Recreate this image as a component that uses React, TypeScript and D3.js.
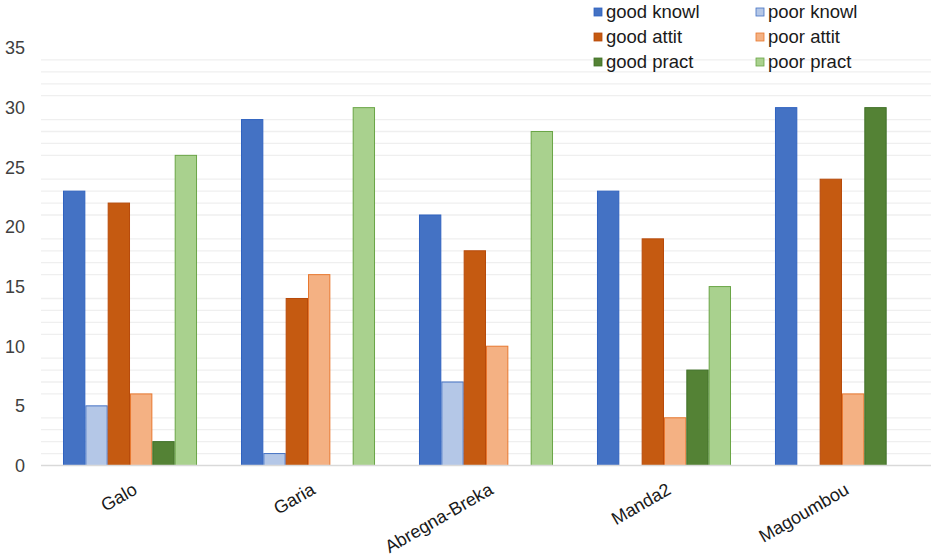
import React, { useRef, useEffect } from "react";
import * as d3 from "d3";

// categories and series
const villages = ["Galo", "Garia", "Abregna-Breka", "Manda2", "Magoumbou"];
const seriesNames = ["good knowl", "poor knowl", "good attit", "poor attit", "good pract", "poor pract"];

const goodKnowl = [23, 29, 21, 23, 30];
const poorKnowl = [5, 1, 7, 0, 0];
const goodAttit = [22, 14, 18, 19, 24];
const poorAttit = [6, 16, 10, 4, 6];
const goodPract = [2, 0, 0, 8, 30];
const poorPract = [26, 30, 28, 15, 0];

const yTicks = [0, 5, 10, 15, 20, 25, 30, 35];

const fills = ["#4472C4", "#B4C7E7", "#C55A11", "#F4B183", "#548235", "#A9D18E"];
const strokes = ["#2F62C0", "#4472C4", "#B84A0A", "#E8782F", "#3F7027", "#6AA546"];

const App: React.FC = () => {
    const svgRef = useRef<SVGSVGElement | null>(null);

    useEffect(() => {
        const width = 935;
        const height = 557;
        const svg = d3.select(svgRef.current).attr("width", width).attr("height", height);
        svg.selectAll("*").remove();

        const allSeries = [goodKnowl, poorKnowl, goodAttit, poorAttit, goodPract, poorPract];

        // scales
        const x0 = d3.scaleBand().domain(villages).range([41, 931]).paddingInner(0.247).paddingOuter(0.1236);
        const x1 = d3.scaleBand().domain(seriesNames).range([0, x0.bandwidth()]).padding(0);
        const y = d3.scaleLinear().domain([0, 35]).range([465.5, 48]);

        // minor gridlines (every unit, skipping the labelled ones)
        const minor = d3.range(1, 35).filter((v) => v % 5 !== 0);
        svg.append("g")
            .selectAll("line")
            .data(minor)
            .enter()
            .append("line")
            .attr("x1", 41)
            .attr("x2", 931)
            .attr("y1", (d) => y(d))
            .attr("y2", (d) => y(d))
            .attr("stroke", "#efefef")
            .attr("stroke-width", 1.3);

        // bars
        const groups = svg.selectAll(".village")
            .data(villages)
            .enter()
            .append("g")
            .attr("class", "village")
            .attr("transform", (d) => `translate(${x0(d)}, 0)`);

        groups.each(function (v, i) {
            const g = d3.select(this);
            g.selectAll("rect")
                .data(seriesNames.map((s, k) => ({ s, k, value: allSeries[k][i] })))
                .enter()
                .filter((d) => d.value > 0)
                .append("rect")
                .attr("x", (d) => (x1(d.s) as number) + 0.5)
                .attr("y", (d) => y(d.value))
                .attr("width", x1.bandwidth() - 1)
                .attr("height", (d) => y(0) - y(d.value))
                .attr("fill", (d) => fills[d.k])
                .attr("stroke", (d) => strokes[d.k])
                .attr("stroke-width", 1);
        });

        // zero axis line
        svg.append("line")
            .attr("x1", 41)
            .attr("x2", 931)
            .attr("y1", y(0))
            .attr("y2", y(0))
            .attr("stroke", "#d9d9d9")
            .attr("stroke-width", 1.5);

        // y tick labels
        svg.append("g")
            .selectAll("text")
            .data(yTicks)
            .enter()
            .append("text")
            .attr("x", 25)
            .attr("y", (d) => y(d))
            .attr("dy", "0.35em")
            .attr("text-anchor", "end")
            .attr("font-family", "Liberation Sans, Arial, sans-serif")
            .attr("font-size", 18)
            .attr("fill", "#404040")
            .text((d) => d);

        // x labels, rotated
        svg.append("g")
            .selectAll("text")
            .data(villages)
            .enter()
            .append("text")
            .attr("transform", (d) => `translate(${(x0(d) as number) + x0.bandwidth() / 2 + 2}, 482) rotate(-30)`)
            .attr("text-anchor", "end")
            .attr("dy", "0.7em")
            .attr("font-family", "Liberation Sans, Arial, sans-serif")
            .attr("font-size", 18)
            .attr("fill", "#1a1a1a")
            .text((d) => d);

        // legend, two columns
        const legend = svg.append("g")
            .selectAll("g")
            .data(seriesNames)
            .enter()
            .append("g")
            .attr("transform", (d, i) => `translate(${i % 2 === 0 ? 594 : 756}, ${12 + Math.floor(i / 2) * 25})`);
        legend.append("rect")
            .attr("x", 0)
            .attr("y", -4)
            .attr("width", 8)
            .attr("height", 8)
            .attr("fill", (d, i) => fills[i])
            .attr("stroke", (d, i) => strokes[i])
            .attr("stroke-width", 0.8);
        legend.append("text")
            .attr("x", 12)
            .attr("y", 0)
            .attr("dy", "0.35em")
            .attr("font-family", "Liberation Sans, Arial, sans-serif")
            .attr("font-size", 18.5)
            .attr("fill", "#1a1a1a")
            .text((d) => d);
    }, []);

    return <svg ref={svgRef} style={{ position: "absolute", left: 0, top: 0, background: "#ffffff" }} />;
};

export default App;
